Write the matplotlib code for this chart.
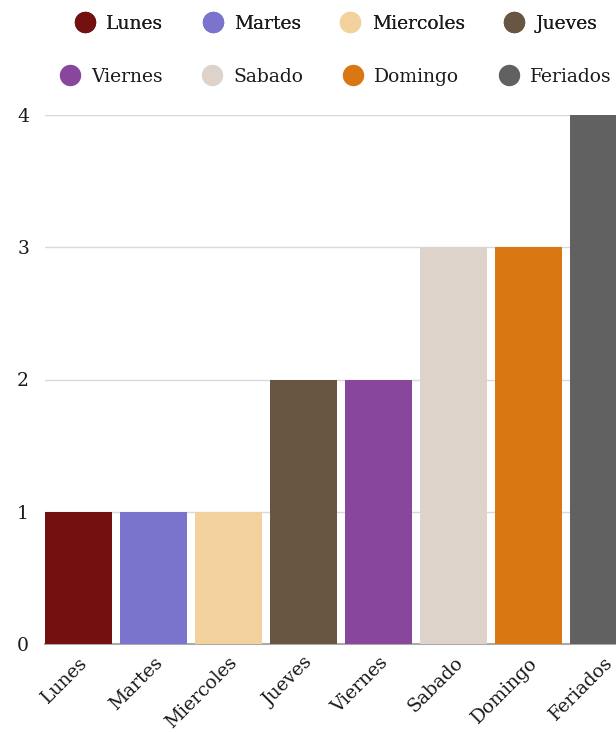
import matplotlib.pyplot as plt
from matplotlib.lines import Line2D

# Data
dias = ['Lunes', 'Martes', 'Miercoles', 'Jueves', 'Viernes', 'Sabado', 'Domingo', 'Feriados']
valores = [1, 1, 1, 2, 2, 3, 3, 4]
colores = ['#731010', '#7b74cc', '#f2d19c', '#685643', '#88479c', '#ded3ca', '#d97712', '#616161']
yticks = [0, 1, 2, 3, 4]

plt.rcParams['font.family'] = ['DejaVu Serif']
FS = 13.5

W, H = 616, 733
fig = plt.figure(figsize=(W / 100, H / 100), dpi=100)
# plot area reaches the right edge; the last bar gets cut off like the original
ax = fig.add_axes([45 / W, (H - 644) / H, (W - 45) / W, (644 - 115) / H])

x = range(len(dias))
ax.bar(x, valores, width=67 / 75, color=colores, zorder=3)

ax.set_xlim(-33.5 / 75, (W - 78.5) / 75)
ax.set_ylim(0, 4)
ax.set_yticks(yticks)
ax.set_yticklabels([str(v) for v in yticks], fontsize=FS)
ax.set_xticks(list(x))
ax.set_xticklabels(dias, rotation=45, ha='right', rotation_mode='anchor', fontsize=FS)
ax.tick_params(axis='both', length=0, colors='#1a1a1a')
ax.tick_params(axis='y', pad=11.5)
ax.tick_params(axis='x', pad=7)

ax.grid(axis='y', color='#d9d9d9', linewidth=1, zorder=0)
for s in ['top', 'right', 'left']:
    ax.spines[s].set_visible(False)
ax.spines['bottom'].set_color('#aaaaaa')
ax.spines['bottom'].set_linewidth(1.5)
ax.spines['bottom'].set_zorder(2)

# Legend: two centered rows
handles = [Line2D([], [], marker='o', linestyle='none', markersize=14.4,
                  markerfacecolor=c, markeredgecolor=c) for c in colores]
leg_kw = dict(ncol=4, loc='center', frameon=False, fontsize=FS,
              handlelength=1.07, handletextpad=0.6, columnspacing=2.1,
              labelcolor='#1a1a1a')
leg1 = fig.legend(handles[:4], dias[:4], bbox_to_anchor=(336 / W, 1 - 24 / H), **leg_kw)
fig.add_artist(leg1)
fig.legend(handles[4:], dias[4:], bbox_to_anchor=(336 / W, 1 - 77 / H), **leg_kw)

fig.savefig('out.png', dpi=100)
